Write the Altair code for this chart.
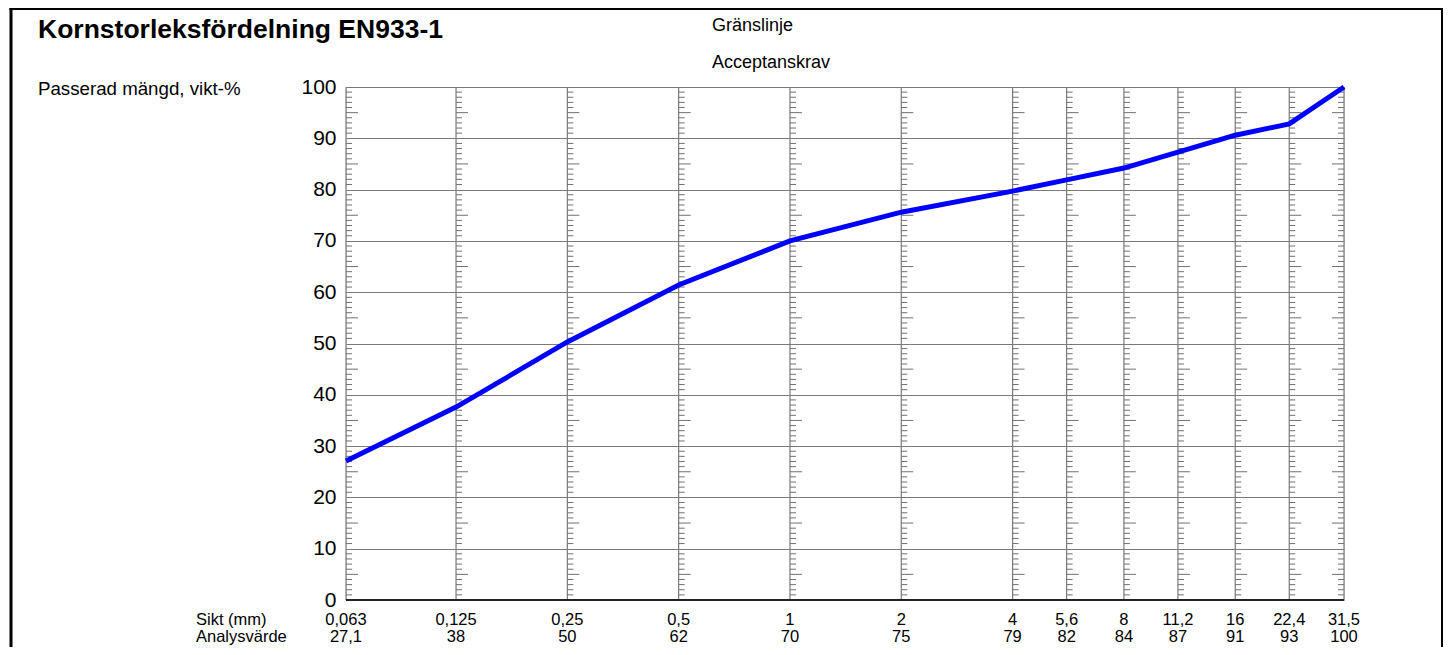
import altair as alt
import pandas as pd

# ---- data ----
sieves = [0.063, 0.125, 0.25, 0.5, 1, 2, 4, 5.6, 8, 11.2, 16, 22.4, 31.5]
sieve_labels = ["0,063", "0,125", "0,25", "0,5", "1", "2", "4", "5,6", "8", "11,2", "16", "22,4", "31,5"]
passing = [27.1, 37.6, 50.3, 61.4, 70.0, 75.6, 79.7, 81.9, 84.2, 87.3, 90.6, 92.8, 100.0]
analysis_labels = ["27,1", "38", "50", "62", "70", "75", "79", "82", "84", "87", "91", "93", "100"]
y_ticks = list(range(0, 101, 10))

title_text = "Kornstorleksfördelning EN933-1"
y_title = "Passerad mängd, vikt-%"
legend_items = ["Gränslinje", "Acceptanskrav"]
row_headers = ["Sikt (mm)", "Analysvärde"]

W, H = 998, 513
FONT = "Arial"
ROW1, ROW2 = 538, 555

df = pd.DataFrame({"size": sieves, "pass": passing,
                   "slabel": sieve_labels, "alabel": analysis_labels})

# minor tick structure along each sieve line
rows = []
for i, s in enumerate(sieves):
    for v in range(1, 100):
        if v % 10 == 0:
            continue
        rows.append({"size": s, "v": v,
                     "long": v % 10 == 5,
                     "last": i == len(sieves) - 1})
ticks_df = pd.DataFrame(rows)

xscale = alt.Scale(type="log", domain=[0.063, 31.5], nice=False)
yscale = alt.Scale(domain=[0, 100], nice=False)

X = alt.X("size:Q", scale=xscale, axis=None)

base = alt.Chart(df)

line = base.mark_line(color="#0000ff", strokeWidth=5).encode(
    x=X,
    y=alt.Y("pass:Q", scale=yscale,
            axis=alt.Axis(values=y_ticks, grid=True, gridColor="#7a7a7a", gridWidth=1.2,
                          domain=False, ticks=False, labelFontSize=21, labelFont=FONT,
                          labelColor="black", labelPadding=10, title=None)),
)

vlines = base.mark_rule(color="#7a7a7a", strokeWidth=1.2).encode(
    x=X, y=alt.value(0), y2=alt.value(H)
)

one = pd.DataFrame({"a": [0]})

bottom_line = alt.Chart(one).mark_rule(color="#222222", strokeWidth=2).encode(
    x=alt.value(0), x2=alt.value(W), y=alt.value(H)
)

tk = alt.Chart(ticks_df)
tick_color = "#707070"
def tick_layer(long_, last_):
    length = 12 if long_ else 6
    off = -length if last_ else length
    return tk.transform_filter(
        (alt.datum.long == long_) & (alt.datum.last == last_)
    ).mark_rule(color=tick_color, strokeWidth=1, x2Offset=off).encode(
        x=X, x2="size:Q", y=alt.Y("v:Q", scale=yscale)
    )

ticks = [tick_layer(a, b) for a in (False, True) for b in (False, True)]

sikt_text = base.mark_text(font=FONT, fontSize=16.5, align="center", baseline="alphabetic",
                           color="black").encode(x=X, y=alt.value(ROW1), text="slabel:N")
anal_text = base.mark_text(font=FONT, fontSize=16.5, align="center", baseline="alphabetic",
                           color="black").encode(x=X, y=alt.value(ROW2), text="alabel:N")

hdr_df = pd.DataFrame({"t": row_headers, "yy": [ROW1, ROW2]})
headers = alt.Chart(hdr_df).mark_text(font=FONT, fontSize=16.5, align="left",
                                      baseline="alphabetic", color="black").encode(
    x=alt.value(-150), y=alt.Y("yy:Q", scale=None), text="t:N"
)

title = alt.Chart(one).mark_text(text=title_text, font=FONT, fontSize=26.5, fontWeight="bold",
                                 align="left", baseline="alphabetic", color="black").encode(
    x=alt.value(-308), y=alt.value(-49))
ytitle = alt.Chart(one).mark_text(text=y_title, font=FONT, fontSize=18.7, align="left",
                                  baseline="alphabetic", color="black").encode(
    x=alt.value(-308), y=alt.value(8))

leg_df = pd.DataFrame({"t": legend_items, "yy": [-56, -19]})
legend = alt.Chart(leg_df).mark_text(font=FONT, fontSize=18, align="left",
                                     baseline="alphabetic", color="black").encode(
    x=alt.value(366), y=alt.Y("yy:Q", scale=None), text="t:N")

border_left = alt.Chart(one).mark_rule(color="black", strokeWidth=3).encode(
    x=alt.value(-335), y=alt.value(-79), y2=alt.value(H + 60))
border_top = alt.Chart(one).mark_rule(color="black", strokeWidth=3).encode(
    x=alt.value(-336.5), x2=alt.value(1097), y=alt.value(-78.5))
border_right = alt.Chart(one).mark_rule(color="black", strokeWidth=2).encode(
    x=alt.value(1096), y=alt.value(-79), y2=alt.value(H + 60))

chart = alt.layer(
    vlines, *ticks, bottom_line, line, sikt_text, anal_text, headers,
    title, ytitle, legend, border_left, border_top, border_right
).properties(
    width=W, height=H,
    autosize=alt.AutoSizeParams(type="none"),
    padding={"left": 338, "top": 79, "right": 99, "bottom": 47},
).configure_view(stroke=None).configure(background="white")

chart.save("out.html", embed_options={"renderer": "svg", "actions": False})
